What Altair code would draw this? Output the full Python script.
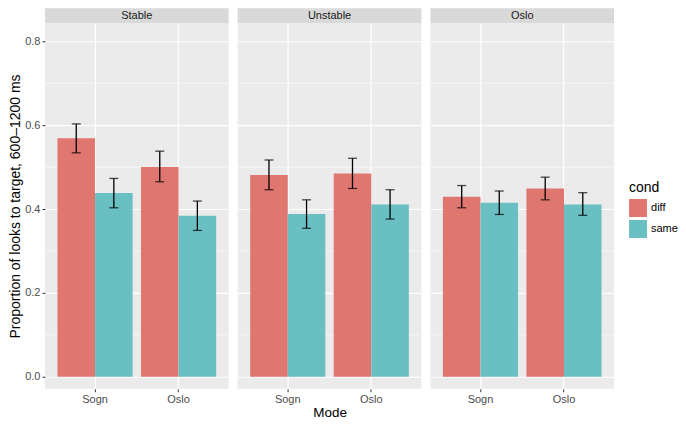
import altair as alt
import pandas as pd

panels = ["Stable", "Unstable", "Oslo"]
modes = ["Sogn", "Oslo"]
conds = ["diff", "same"]

# per panel: [Sogn-diff, Sogn-same, Oslo-diff, Oslo-same]
means = {
    "Stable":   [0.569, 0.438, 0.500, 0.384],
    "Unstable": [0.481, 0.388, 0.485, 0.411],
    "Oslo":     [0.429, 0.415, 0.449, 0.411],
}
lows = {
    "Stable":   [0.534, 0.403, 0.465, 0.349],
    "Unstable": [0.446, 0.354, 0.449, 0.376],
    "Oslo":     [0.403, 0.387, 0.422, 0.385],
}
highs = {
    "Stable":   [0.603, 0.473, 0.538, 0.419],
    "Unstable": [0.517, 0.422, 0.521, 0.446],
    "Oslo":     [0.456, 0.443, 0.476, 0.439],
}
major_ticks = [0.0, 0.2, 0.4, 0.6, 0.8]
minor_ticks = [0.1, 0.3, 0.5, 0.7]
colors = ["#DF7670", "#6ABFC3"]

W, H = 184, 366
STRIP = 15
FONT = "Liberation Sans"


def panel_df(name):
    rows = []
    i = 0
    for m in modes:
        for c in conds:
            rows.append({"panel": name, "mode": m, "cond": c,
                         "mean": means[name][i], "lo": lows[name][i], "hi": highs[name][i]})
            i += 1
    return pd.DataFrame(rows)


def make_panel(idx, name):
    df = panel_df(name)
    yscale = alt.Scale(domain=[-0.0286, 0.843], nice=False, zero=False)
    if idx == 0:
        yaxis = alt.Axis(values=major_ticks, format=".1f", title="Proportion of looks to target, 600\u20131200 ms",
                         grid=True, gridColor="white", gridWidth=1.2, domain=False,
                         tickColor="#333333", tickSize=3, labelColor="#4D4D4D", labelFontSize=11,
                         labelPadding=2, titleFontSize=14, titleFontWeight="normal", titleColor="black",
                         titlePadding=2, labelFont=FONT, titleFont=FONT)
    else:
        yaxis = alt.Axis(values=major_ticks, title=None, labels=False, ticks=False, domain=False,
                         grid=True, gridColor="white", gridWidth=1.2)
    xaxis = alt.Axis(title="Mode" if idx == 1 else None, labelAngle=0, domain=False,
                     grid=True, gridColor="white", gridWidth=1.2, bandPosition=0.5,
                     tickColor="#333333", tickSize=3, labelColor="#4D4D4D", labelFontSize=11,
                     labelPadding=2, titleFontSize=13.5, titleFontWeight="normal", titleColor="black",
                     titlePadding=1, labelFont=FONT, titleFont=FONT)
    x = alt.X("mode:N", sort=modes, scale=alt.Scale(paddingInner=0.1, paddingOuter=0.15), axis=xaxis)
    xo = alt.XOffset("cond:N", sort=conds, scale=alt.Scale(paddingInner=0, paddingOuter=0))

    minor = alt.Chart(pd.DataFrame({"v": minor_ticks})).mark_rule(color="white", strokeWidth=0.6).encode(
        y=alt.Y("v:Q", scale=yscale, axis=yaxis)
    )
    base = alt.Chart(df)
    bars = base.mark_bar().encode(
        x=x, xOffset=xo,
        y=alt.Y("mean:Q", scale=yscale),
        y2=alt.datum(0),
        color=alt.Color("cond:N", sort=conds, scale=alt.Scale(domain=conds, range=colors),
                        legend=alt.Legend(title="cond", orient="none", legendX=585, legendY=158,
                                          symbolType="square", symbolSize=324, symbolStrokeWidth=0,
                                          rowPadding=3, labelFontSize=11, titleFontSize=14,
                                          titleFontWeight="normal", labelFont=FONT, titleFont=FONT,
                                          titleColor="black", labelColor="black", titlePadding=4,
                                          labelOffset=4, padding=0)),
    )
    rules = base.mark_rule(color="black", strokeWidth=1.3).encode(
        x=x, xOffset=xo, y=alt.Y("lo:Q", scale=yscale), y2="hi:Q"
    )
    cap_lo = base.mark_tick(color="black", thickness=1.3, size=9, orient="horizontal").encode(
        x=x, xOffset=xo, y=alt.Y("lo:Q", scale=yscale)
    )
    cap_hi = base.mark_tick(color="black", thickness=1.3, size=9, orient="horizontal").encode(
        x=x, xOffset=xo, y=alt.Y("hi:Q", scale=yscale)
    )
    one = alt.Chart(pd.DataFrame({"panel": [name]}))
    strip = one.mark_rect(color="#D9D9D9").encode(
        x=alt.value(0), x2=alt.value(W), y=alt.value(-STRIP), y2=alt.value(0)
    )
    strip_text = one.mark_text(font=FONT, fontSize=11, color="#1A1A1A", baseline="middle").encode(
        x=alt.value(W / 2), y=alt.value(-STRIP / 2), text="panel:N"
    )
    return alt.layer(minor, bars, rules, cap_lo, cap_hi, strip, strip_text).properties(width=W, height=H)


chart = alt.hconcat(*[make_panel(i, p) for i, p in enumerate(panels)], spacing=7).properties(
    padding={"left": 0, "top": 0, "right": 0, "bottom": 0}
).configure_view(fill="#EBEBEB", stroke=None)

chart.save("out.html", embed_options={"renderer": "svg", "actions": False})
